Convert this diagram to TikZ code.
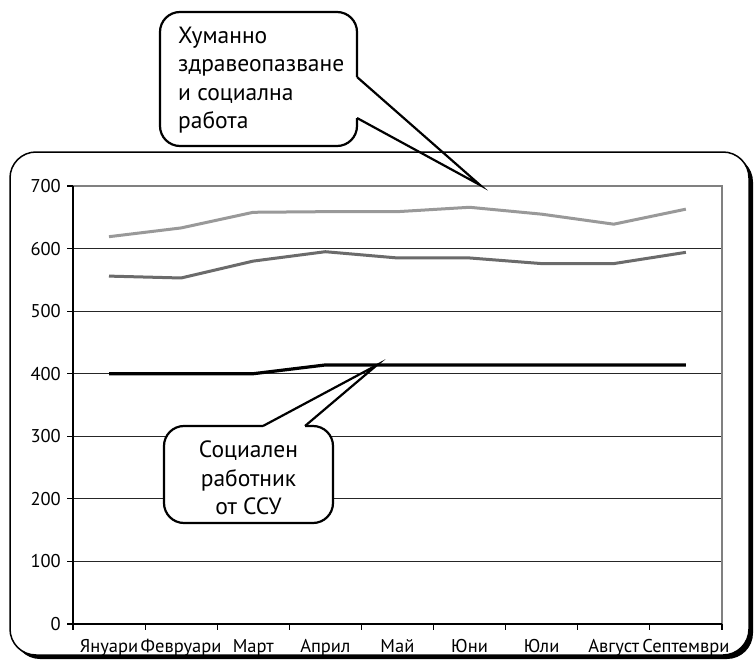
\documentclass[tikz,border=0pt]{standalone}
\usepackage{fontspec}
\setmainfont{PT Sans}
\begin{document}
\begin{tikzpicture}[x=1pt,y=-1pt,
  axlabel/.style={font=\fontsize{18.5}{20}\selectfont, inner sep=0pt},
  callout/.style={draw=black, line width=2.2pt, fill=white, rounded corners=20pt, inner sep=0pt},
  calltext/.style={font=\fontsize{23.5}{28.5}\selectfont, inner sep=0pt},
  grid/.style={line width=1.2pt, black!85},
  serA/.style={line width=3pt, color=black!40, line join=round},
  serB/.style={line width=3pt, color=black!58, line join=round},
  serC/.style={line width=3.2pt, color=black, line join=round}]
\useasboundingbox (0,0) rectangle (756,661);
% outer frame with shadow
\fill[black, rounded corners=26pt] (14,156) rectangle (753,659);
\draw[fill=white, line width=1.5pt, rounded corners=26pt] (10,152) rectangle (749,655);
% plot area
\def\yv#1{624-0.6257*#1}
\foreach \v in {100,200,...,600} \draw[grid] (73,{\yv{\v}}) -- (722,{\yv{\v}});
\draw[line width=1.3pt, black!50] (73,186) -- (722,186) -- (722,624);
\draw[line width=1.3pt] (73,186) -- (73,624) -- (722,624);
\foreach \v in {0,100,...,700} {
  \draw[line width=1.2pt] (67,{\yv{\v}}) -- (73,{\yv{\v}});
  \node[axlabel, anchor=east] (yl\v) at (61,{\yv{\v}}) {\v};
}
\foreach \i in {0,...,9} \draw[line width=1.2pt] ({73+72.11*\i},624) -- ({73+72.11*\i},630);
\foreach \m [count=\i from 0] in {Януари,Февруари,Март,Април,Май,Юни,Юли,Август,Септември}
  \node[axlabel, anchor=base] (xl\i) at ({109+72.11*\i},652) {\m};
% series
\def\cx#1{109+72.11*#1}
\draw[serA] plot coordinates {({\cx0},{\yv{619}}) ({\cx1},{\yv{633}}) ({\cx2},{\yv{658}}) ({\cx3},{\yv{659}}) ({\cx4},{\yv{659}}) ({\cx5},{\yv{666}}) ({\cx6},{\yv{655}}) ({\cx7},{\yv{639}}) ({\cx8},{\yv{663}})};
\draw[serB] plot coordinates {({\cx0},{\yv{556}}) ({\cx1},{\yv{553}}) ({\cx2},{\yv{580}}) ({\cx3},{\yv{595}}) ({\cx4},{\yv{585}}) ({\cx5},{\yv{585}}) ({\cx6},{\yv{576}}) ({\cx7},{\yv{576}}) ({\cx8},{\yv{594}})};
\draw[serC] plot coordinates {({\cx0},{\yv{400}}) ({\cx1},{\yv{400}}) ({\cx2},{\yv{400}}) ({\cx3},{\yv{414}}) ({\cx4},{\yv{414}}) ({\cx5},{\yv{414}}) ({\cx6},{\yv{414}}) ({\cx7},{\yv{414}}) ({\cx8},{\yv{414}})};
% callout 1
\node[callout, minimum width=197pt, minimum height=134pt] (c1) at (258.5,79) {};
\node[calltext, align=left, anchor=west] (t1) at (178,80) {Хуманно\\здравеопазване\\и социална\\работа};
\coordinate (c1a) at (357,77);
\coordinate (c1b) at (357,118);
\coordinate (tip1) at (480,185);
\draw[white, line width=3.2pt] (c1a) -- (c1b);
\draw[line width=2.2pt, line join=miter] (c1a) -- (tip1) -- (c1b);
% callout 2
\node[callout, minimum width=169pt, minimum height=97pt] (c2) at (248.5,474.5) {};
\node[calltext, align=center] (t2) at (248.5,478) {Социален\\работник\\от ССУ};
\coordinate (c2a) at (263,426);
\coordinate (c2b) at (305,426);
\coordinate (tip2) at (377,365);
\draw[white, line width=3.2pt] (c2a) -- (c2b);
\draw[line width=2.2pt, line join=miter] (c2a) -- (tip2) -- (c2b);
\end{tikzpicture}
\end{document}
